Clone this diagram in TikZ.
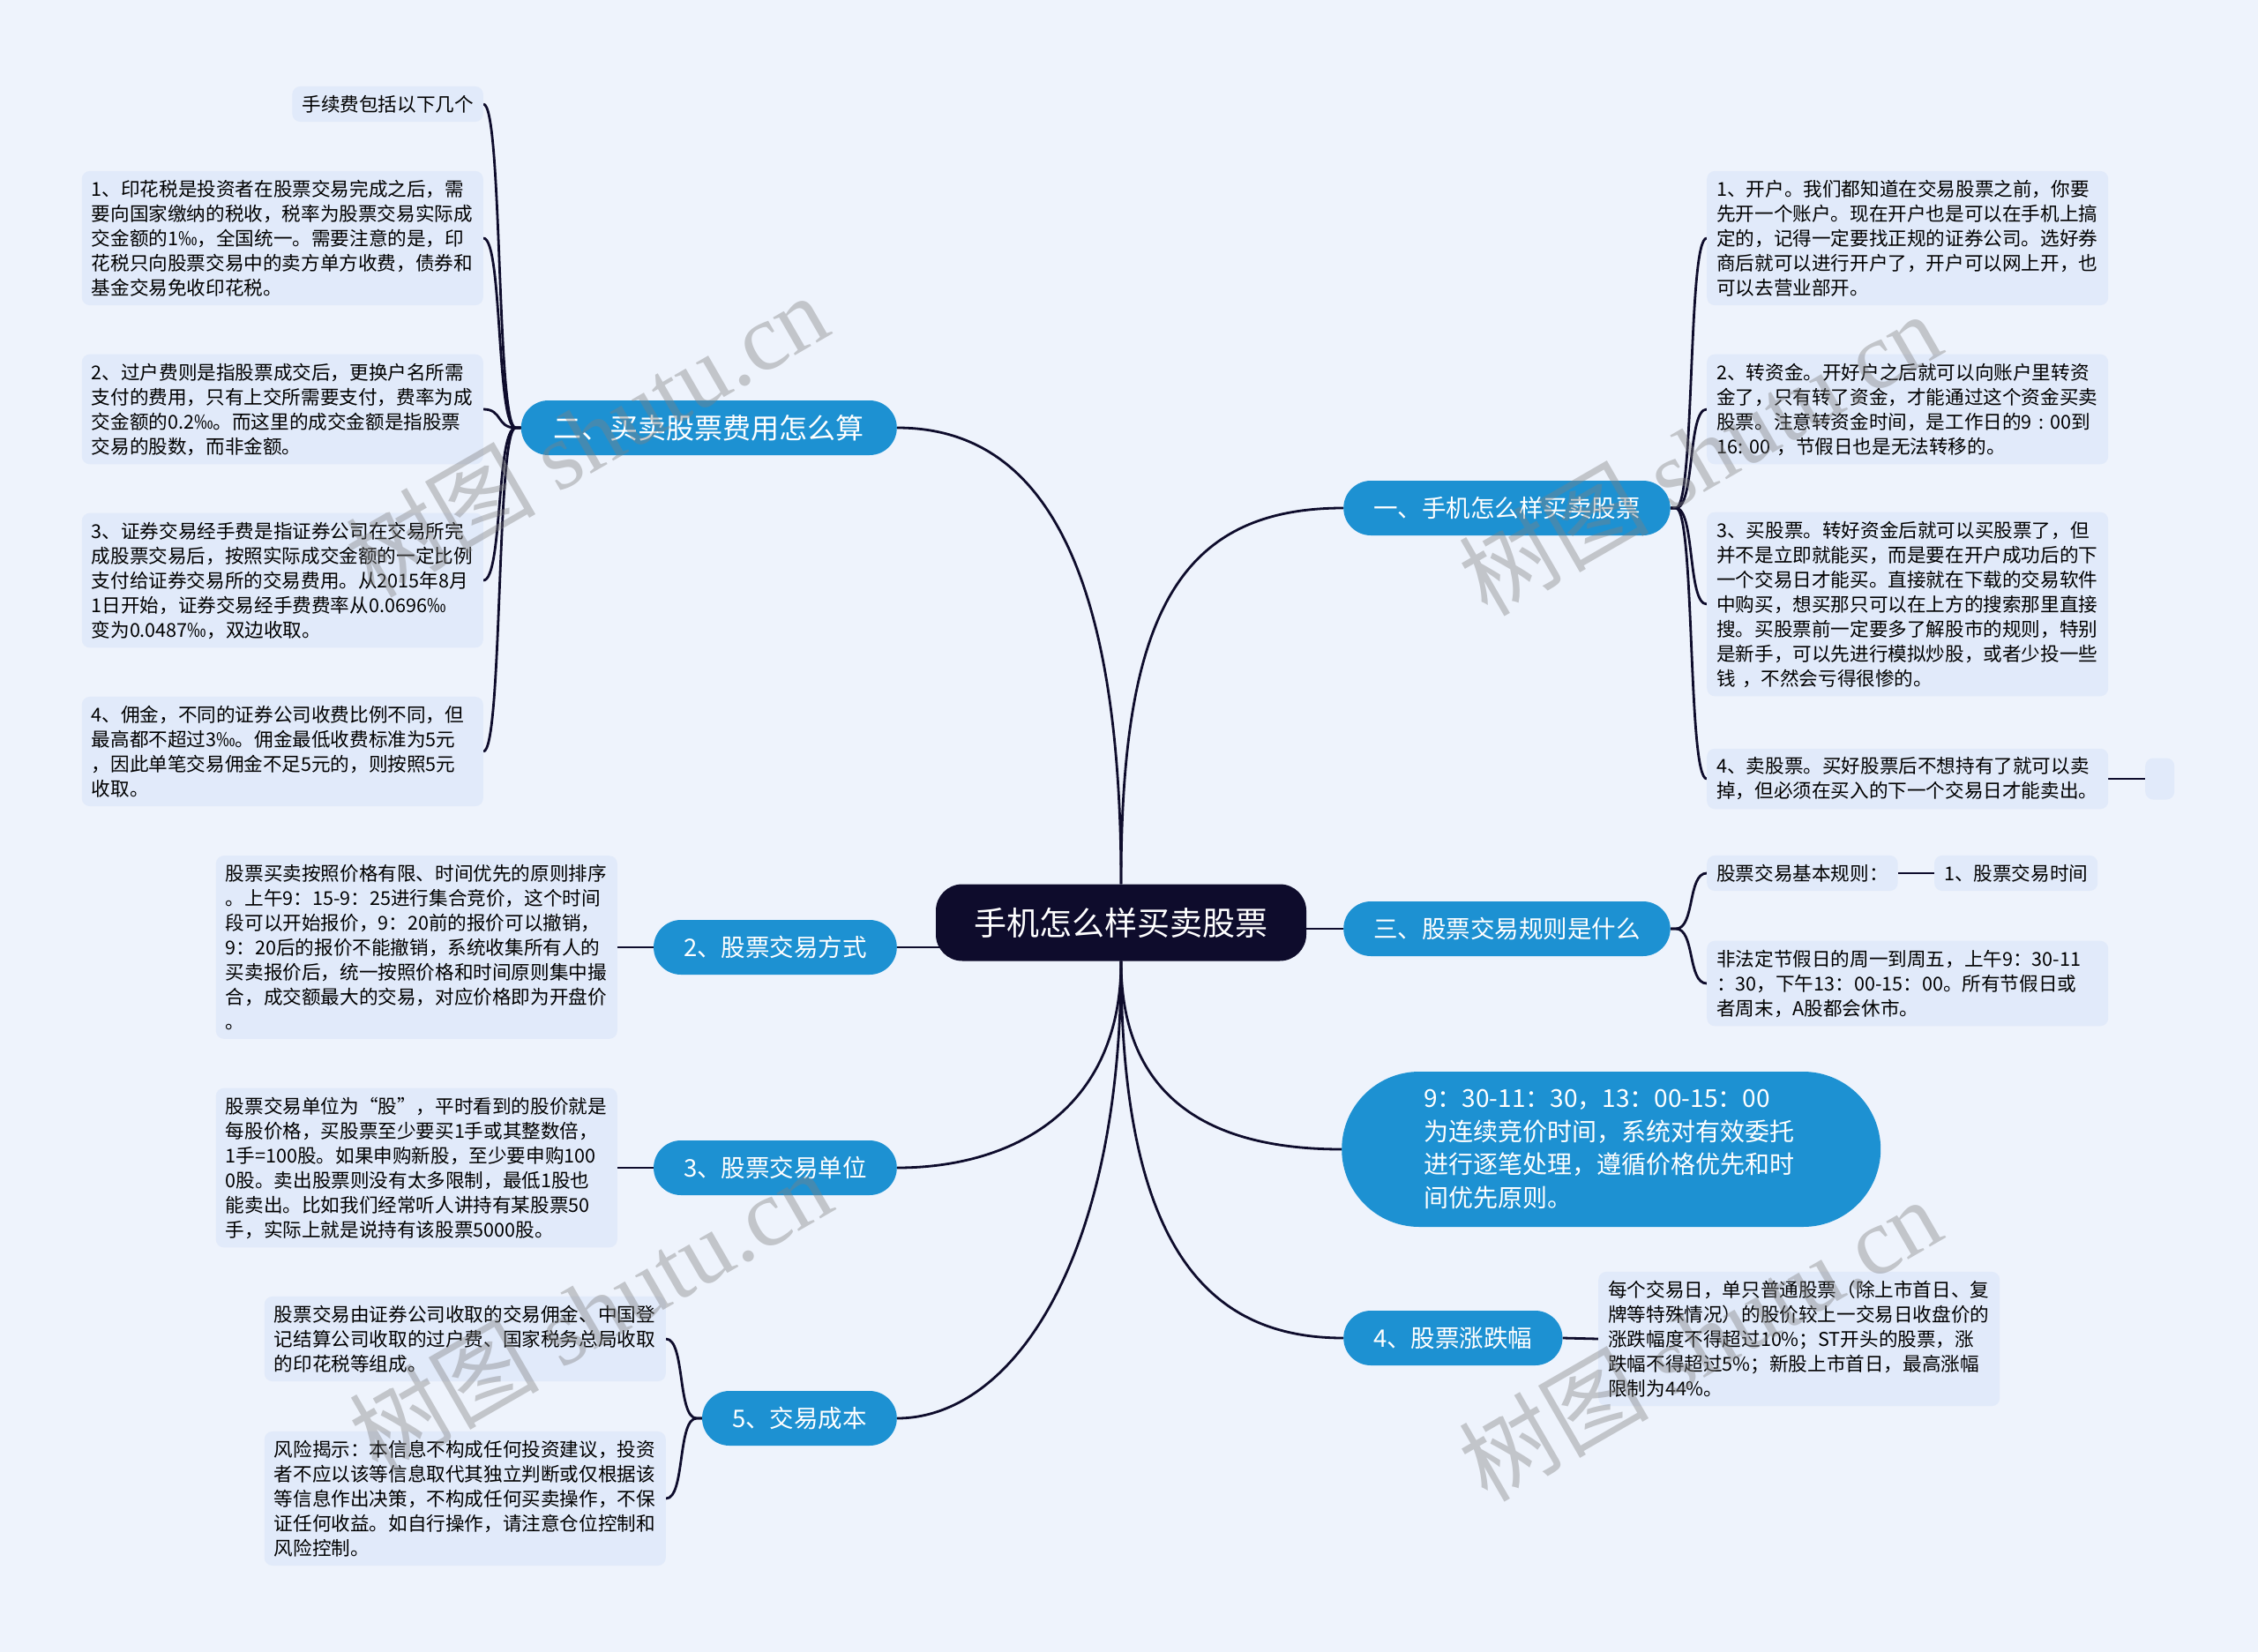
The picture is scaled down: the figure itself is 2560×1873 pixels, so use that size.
\documentclass[tikz,border=0pt]{standalone}
\usepackage{fontspec}
\setmainfont{Noto Sans CJK SC}
\newfontfamily\markfont{Liberation Serif}
\usetikzlibrary{positioning}

\definecolor{paper}{RGB}{238,243,252}
\definecolor{leaffill}{RGB}{225,234,250}
\definecolor{topicfill}{RGB}{29,145,210}
\definecolor{rootfill}{RGB}{14,12,44}
\definecolor{wire}{RGB}{14,12,44}

\pgfdeclarelayer{bg}
\pgfsetlayers{bg,main}

\begin{document}
\begin{tikzpicture}[x=1pt,y=-1pt,
                    wires/.style={line width=2.8pt,draw=wire},
                    hookl/.style={to path={-- ++(-6,0) .. controls +(-22,0) and +(22,0) .. (\tikztotarget)}},
                    hookr/.style={to path={-- ++(6,0) .. controls +(22,0) and +(-22,0) .. (\tikztotarget)}}]
  \tikzstyle{rootbox}=[fill=rootfill,text=white,rounded corners=30pt,minimum width=420pt,minimum height=87pt,font=\fontsize{37}{44}\selectfont]
  \tikzstyle{topicbox}=[fill=topicfill,text=white,rounded corners=31pt,minimum height=62pt,inner xsep=34pt,font=\fontsize{27.5}{34}\selectfont]
  \tikzstyle{leafbox}=[fill=leaffill,rounded corners=9pt,inner xsep=11pt,inner ysep=10pt,align=left,font=\fontsize{21.6}{28}\selectfont]
  \tikzstyle{widebox}=[leafbox,text width=433pt]
  \tikzstyle{wmark}=[text=gray,text opacity=0.4,rotate=30,font=\fontsize{108}{108}\selectfont]

  \useasboundingbox (0,0) rectangle (2560,1873);
  \begin{pgfonlayer}{bg}
    \fill[paper] (0,0) rectangle (2560,1873);
  \end{pgfonlayer}

  % centre and main topics
  \node[rootbox]                  (root) at (1271,1046) {手机怎么样买卖股票};
  \node[topicbox,anchor=west]     (b1)   at (1523,576)  {一、手机怎么样买卖股票};
  \node[topicbox,anchor=west]     (b3)   at (1523,1053) {三、股票交易规则是什么};
  \node[topicbox,anchor=west,minimum width=611pt,minimum height=176pt,rounded corners=88pt,
        text width=425pt,align=left,font=\fontsize{28}{37.5}\selectfont]
                                  (bt)   at (1521,1303) {9：30-11：30，13：00-15：00\\为连续竞价时间，系统对有效委托\\进行逐笔处理，遵循价格优先和时\\间优先原则。};
  \node[topicbox,anchor=west]     (b4)   at (1523,1517) {4、股票涨跌幅};
  \node[topicbox,anchor=east,minimum width=426pt,font=\fontsize{32}{38}\selectfont]
                                  (b2)   at (1017,485)  {二、买卖股票费用怎么算};
  \node[topicbox,anchor=east]     (w2)   at (1017,1074) {2、股票交易方式};
  \node[topicbox,anchor=east]     (w3)   at (1017,1324) {3、股票交易单位};
  \node[topicbox,anchor=east]     (w5)   at (1017,1608) {5、交易成本};

  % fees
  \node[leafbox,anchor=east] (f0) at (548,118) {手续费包括以下几个};
  \node[widebox,anchor=east] (f1) at (548,270) {1、印花税是投资者在股票交易完成之后，需\\要向国家缴纳的税收，税率为股票交易实际成\\交金额的1‰，全国统一。需要注意的是，印\\花税只向股票交易中的卖方单方收费，债券和\\基金交易免收印花税。};
  \node[widebox,anchor=east] (f2) at (548,464) {2、过户费则是指股票成交后，更换户名所需\\支付的费用，只有上交所需要支付，费率为成\\交金额的0.2‰。而这里的成交金额是指股票\\交易的股数，而非金额。};
  \node[widebox,anchor=east] (f3) at (548,658) {3、证券交易经手费是指证券公司在交易所完\\成股票交易后，按照实际成交金额的一定比例\\支付给证券交易所的交易费用。从2015年8月\\1日开始，证券交易经手费费率从0.0696‰\\变为0.0487‰，双边收取。};
  \node[widebox,anchor=east] (f4) at (548,852) {4、佣金，不同的证券公司收费比例不同，但\\最高都不超过3‰。佣金最低收费标准为5元\\，因此单笔交易佣金不足5元的，则按照5元\\收取。};

  % how to buy
  \node[widebox,anchor=west] (o1) at (1935,270) {1、开户。我们都知道在交易股票之前，你要\\先开一个账户。现在开户也是可以在手机上搞\\定的，记得一定要找正规的证券公司。选好券\\商后就可以进行开户了，开户可以网上开，也\\可以去营业部开。};
  \node[widebox,anchor=west] (o2) at (1935,464) {2、转资金。开好户之后就可以向账户里转资\\金了，只有转了资金，才能通过这个资金买卖\\股票。注意转资金时间，是工作日的9~:~00到\\16:~00~，节假日也是无法转移的。};
  \node[widebox,anchor=west] (o3) at (1935,685) {3、买股票。转好资金后就可以买股票了，但\\并不是立即就能买，而是要在开户成功后的下\\一个交易日才能买。直接就在下载的交易软件\\中购买，想买那只可以在上方的搜索那里直接\\搜。买股票前一定要多了解股市的规则，特别\\是新手，可以先进行模拟炒股，或者少投一些\\钱~，不然会亏得很惨的。};
  \node[widebox,anchor=west] (o4) at (1935,883) {4、卖股票。买好股票后不想持有了就可以卖\\掉，但必须在买入的下一个交易日才能卖出。};
  \node[leafbox,anchor=west,minimum width=33pt,minimum height=47pt] (o5) at (2432,883) {};

  % rules
  \node[leafbox,anchor=west] (r1) at (1935,990) {股票交易基本规则：};
  \node[leafbox,right=41pt of r1] (r2) {1、股票交易时间};
  \node[widebox,anchor=west] (r3) at (1935,1115) {非法定节假日的周一到周五，上午9：30-11\\：30，下午13：00-15：00。所有节假日或\\者周末，A股都会休市。};

  % limits, ways, units, cost
  \node[widebox,anchor=west] (u1) at (1812,1518) {每个交易日，单只普通股票（除上市首日、复\\牌等特殊情况）的股价较上一交易日收盘价的\\涨跌幅度不得超过10\%；ST开头的股票，涨\\跌幅不得超过5\%；新股上市首日，最高涨幅\\限制为44\%。};
  \node[widebox,anchor=east] (v1) at (700,1074) {股票买卖按照价格有限、时间优先的原则排序\\。上午9：15-9：25进行集合竞价，这个时间\\段可以开始报价，9：20前的报价可以撤销，\\9：20后的报价不能撤销，系统收集所有人的\\买卖报价后，统一按照价格和时间原则集中撮\\合，成交额最大的交易，对应价格即为开盘价\\。};
  \node[widebox,anchor=east] (n1) at (700,1324) {股票交易单位为“股”，平时看到的股价就是\\每股价格，买股票至少要买1手或其整数倍，\\1手=100股。如果申购新股，至少要申购100\\0股。卖出股票则没有太多限制，最低1股也\\能卖出。比如我们经常听人讲持有某股票50\\手，实际上就是说持有该股票5000股。};
  \node[widebox,anchor=east] (c1) at (755,1518) {股票交易由证券公司收取的交易佣金、中国登\\记结算公司收取的过户费、国家税务总局收取\\的印花税等组成。};
  \node[widebox,anchor=east] (c2) at (755,1699) {风险揭示：本信息不构成任何投资建议，投资\\者不应以该等信息取代其独立判断或仅根据该\\等信息作出决策，不构成任何买卖操作，不保\\证任何收益。如自行操作，请注意仓位控制和\\风险控制。};

  \begin{pgfonlayer}{bg}
  \begin{scope}[wires]
    \draw (root.north) .. controls +(0,-300) and +(-190,0) .. (b1.west);
    \draw (root.north) .. controls +(0,-420) and +(130,0) .. (b2.east);
    \draw (root.center |- b3.west) -- (b3.west);
    \draw (w2.east) -- (w2.east -| root.center);
    \draw (root.south) .. controls +(0,170) and +(-130,0) .. (bt.west);
    \draw (root.south) .. controls +(0,330) and +(-150,0) .. (b4.west);
    \draw (root.south) .. controls +(0,170) and +(130,0) .. (w3.east);
    \draw (root.south) .. controls +(0,340) and +(130,0) .. (w5.east);

    \path (b2.west) edge[hookl] (f0.east)
                    edge[hookl] (f1.east)
                    edge[hookl] (f2.east)
                    edge[hookl] (f3.east)
                    edge[hookl] (f4.east);
    \path (b1.east) edge[hookr] (o1.west)
                    edge[hookr] (o2.west)
                    edge[hookr] (o3.west)
                    edge[hookr] (o4.west);
    \path (b3.east) edge[hookr] (r1.west)
                    edge[hookr] (r3.west);
    \path (w5.west) edge[hookl] (c1.east)
                    edge[hookl] (c2.east);
    \draw (o4.east) -- (o5.west);
    \draw (r1.east) -- (r2.west);
    \draw (b4.east) -- (u1.west);
    \draw (w2.west) -- (v1.east);
    \draw (w3.west) -- (n1.east);
  \end{scope}
  \end{pgfonlayer}

  % watermarks
  \node[wmark] (m1) at (665,493)   {树图 {\markfont shutu.cn}};
  \node[wmark] (m2) at (1927,514)  {树图 {\markfont shutu.cn}};
  \node[wmark] (m3) at (669,1486)  {树图 {\markfont shutu.cn}};
  \node[wmark] (m4) at (1927,1518) {树图 {\markfont shutu.cn}};
\end{tikzpicture}
\end{document}
